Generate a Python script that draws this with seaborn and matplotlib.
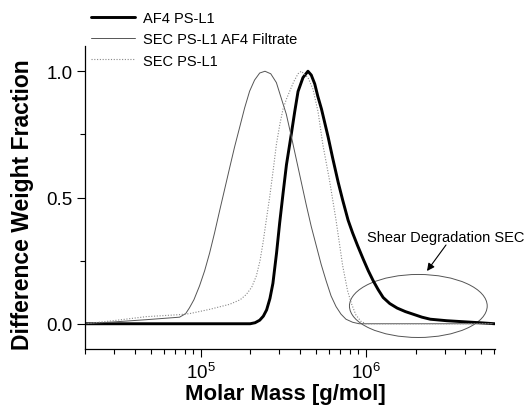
import numpy as np
import pandas as pd
import matplotlib
matplotlib.use("Agg")
import matplotlib.pyplot as plt
from matplotlib.patches import Ellipse
from matplotlib.ticker import LogLocator, MultipleLocator, NullFormatter
import seaborn as sns

# ---- data (x given as log10 of molar mass) ----
af4_logM = [4.301, 5.30, 5.33, 5.358, 5.38, 5.40, 5.42, 5.438, 5.46, 5.479, 5.50,
            5.52, 5.549, 5.57, 5.59, 5.62, 5.65, 5.67, 5.691, 5.71, 5.732, 5.772,
            5.80, 5.833, 5.86, 5.893, 5.92, 5.95, 5.985, 6.015, 6.045, 6.075, 6.105,
            6.145, 6.19, 6.24, 6.29, 6.34, 6.39, 6.49, 6.59, 6.69, 6.78]
af4_frac = [0.0, 0.0, 0.004, 0.014, 0.03, 0.055, 0.10, 0.16, 0.28, 0.40, 0.52,
            0.63, 0.75, 0.84, 0.92, 0.975, 1.0, 0.985, 0.95, 0.90, 0.85, 0.74,
            0.655, 0.56, 0.49, 0.41, 0.36, 0.31, 0.255, 0.21, 0.17, 0.135, 0.104,
            0.08, 0.062, 0.048, 0.037, 0.026, 0.018, 0.012, 0.008, 0.004, 0.0]

filt_logM = [4.301, 4.47, 4.67, 4.873, 4.91, 4.933, 4.96, 4.994, 5.025, 5.055, 5.085,
             5.115, 5.145, 5.176, 5.206, 5.236, 5.267, 5.297, 5.327, 5.358, 5.39,
             5.425, 5.459, 5.49, 5.519, 5.55, 5.58, 5.61, 5.64, 5.67, 5.70, 5.73,
             5.76, 5.79, 5.82, 5.85, 5.88, 5.92, 5.96, 6.77]
filt_frac = [0.0, 0.007, 0.016, 0.026, 0.04, 0.063, 0.095, 0.15, 0.21, 0.28, 0.36,
             0.446, 0.53, 0.617, 0.70, 0.776, 0.855, 0.921, 0.965, 0.993, 1.0,
             0.99, 0.955, 0.89, 0.83, 0.74, 0.65, 0.56, 0.47, 0.385, 0.31, 0.235,
             0.17, 0.11, 0.068, 0.038, 0.018, 0.006, 0.0, 0.0]

sec_logM = [4.301, 4.47, 4.67, 4.87, 4.933, 5.055, 5.176, 5.24, 5.277, 5.31, 5.338,
            5.36, 5.378, 5.40, 5.418, 5.44, 5.459, 5.48, 5.499, 5.52, 5.539, 5.565,
            5.59, 5.61, 5.65, 5.68, 5.711, 5.74, 5.78, 5.82, 5.86, 5.89, 5.913,
            5.94, 5.97, 6.0, 6.77]
sec_frac = [0.0, 0.012, 0.028, 0.036, 0.04, 0.057, 0.077, 0.095, 0.116, 0.145, 0.19,
            0.25, 0.32, 0.42, 0.50, 0.61, 0.71, 0.79, 0.85, 0.89, 0.92, 0.96,
            0.99, 1.0, 0.975, 0.93, 0.84, 0.71, 0.57, 0.41, 0.23, 0.13, 0.08,
            0.035, 0.01, 0.0, 0.0]

labels = ["AF4 PS-L1", "SEC PS-L1 AF4 Filtrate", "SEC PS-L1"]
x_ticks = [1e5, 1e6]
x_ticklabels = ["$10^5$", "$10^6$"]
y_ticks = [0.0, 0.5, 1.0]
y_ticklabels = ["0.0", "0.5", "1.0"]
annotation = "Shear Degradation SEC"
xlabel = "Molar Mass [g/mol]"
ylabel = "Difference Weight Fraction"

# ---- figure ----
sns.set_theme(style="ticks")
plt.rcParams["font.family"] = ["Liberation Sans", "DejaVu Sans"]
plt.rcParams["mathtext.fontset"] = "custom"
plt.rcParams["mathtext.rm"] = "Liberation Sans"
plt.rcParams["mathtext.it"] = "Liberation Sans"
plt.rcParams["text.color"] = "black"
plt.rcParams["axes.labelcolor"] = "black"

fig = plt.figure(figsize=(5.29, 4.14), dpi=100)
W, H = 529, 414
ax = fig.add_axes([85 / W, 1 - 350 / H, 410 / W, 303 / H])

df_af4 = pd.DataFrame({"M": np.power(10.0, af4_logM), "w": af4_frac})
df_filt = pd.DataFrame({"M": np.power(10.0, filt_logM), "w": filt_frac})
df_sec = pd.DataFrame({"M": np.power(10.0, sec_logM), "w": sec_frac})

sns.lineplot(data=df_af4, x="M", y="w", ax=ax, color="black", lw=2.1,
             label=labels[0], sort=False, estimator=None)
sns.lineplot(data=df_filt, x="M", y="w", ax=ax, color="#555555", lw=0.7,
             label=labels[1], sort=False, estimator=None)
sns.lineplot(data=df_sec, x="M", y="w", ax=ax, color="#888888", lw=0.8,
             ls=(0, (1, 1.5)), label=labels[2], sort=False, estimator=None)

ax.set_xscale("log")
ax.set_xlim(2.0e4, 6.05e6)
ax.set_ylim(-0.1, 1.1)

ax.set_xticks(x_ticks)
ax.set_xticklabels(x_ticklabels)
ax.xaxis.set_minor_locator(LogLocator(base=10, subs=np.arange(2, 10)))
ax.xaxis.set_minor_formatter(NullFormatter())
ax.set_yticks(y_ticks)
ax.set_yticklabels(y_ticklabels)
ax.yaxis.set_minor_locator(MultipleLocator(0.25))

ax.tick_params(which="major", direction="out", length=6, width=0.8,
               labelsize=13.5, colors="black", pad=3)
ax.tick_params(which="minor", direction="out", length=3.5, width=0.8, colors="black")

for s in ["top", "right"]:
    ax.spines[s].set_visible(False)
for s in ["left", "bottom"]:
    ax.spines[s].set_linewidth(0.9)
    ax.spines[s].set_color("black")

ax.set_xlabel(xlabel, fontsize=16, fontweight="bold", color="black")
ax.set_ylabel(ylabel, fontsize=16.5, fontweight="bold", color="black")
ax.xaxis.set_label_coords((285 - 85) / 410, (350 - 384) / 303)
ax.yaxis.set_label_coords((34 - 85) / 410, (350 - 205) / 303)

# annotation ellipse (axes coordinates) and arrow
ell = Ellipse((0.813, 0.142), 0.336, 0.208, transform=ax.transAxes,
              fill=False, edgecolor="#555555", lw=0.7)
ax.add_patch(ell)
ax.text(367 / W, 1 - 238.5 / H, annotation, transform=fig.transFigure,
        fontsize=10.5, va="center", ha="left", color="black")
ax.annotate("", xy=(427 / W, 1 - 272 / H), xycoords="figure fraction",
            xytext=(446 / W, 1 - 246 / H), textcoords="figure fraction",
            arrowprops=dict(arrowstyle="-|>", color="black", lw=0.8,
                            shrinkA=0, shrinkB=0, mutation_scale=11))

leg = ax.legend(loc="upper left", bbox_to_anchor=(88 / W, 1 - 9 / H),
                bbox_transform=fig.transFigure, frameon=False, fontsize=10.5,
                handlelength=3.0, handletextpad=0.55, labelspacing=0.5,
                borderpad=0.2, borderaxespad=0)
for t in leg.get_texts():
    t.set_color("black")

fig.savefig("out.png", dpi=100)
